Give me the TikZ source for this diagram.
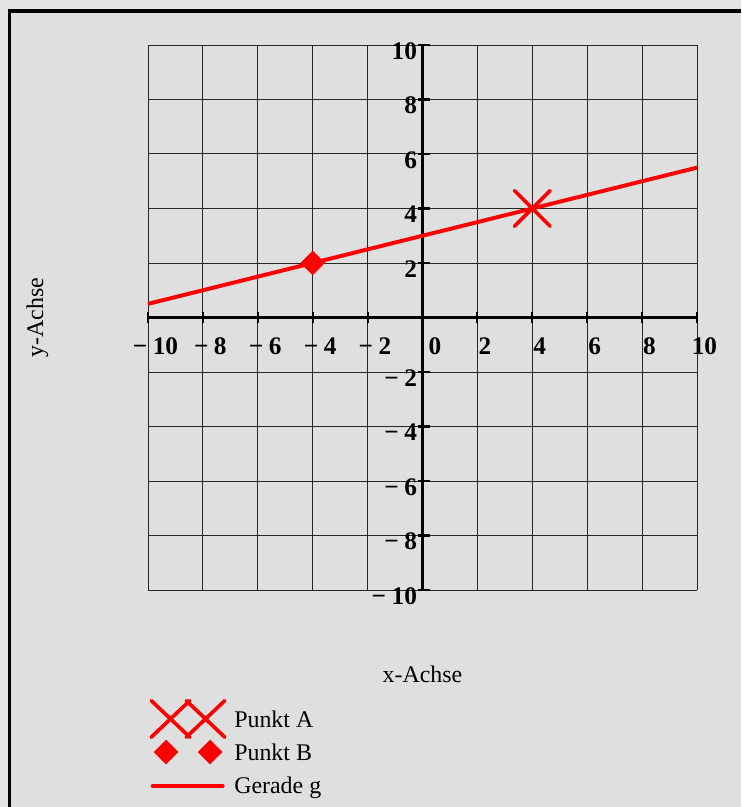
\documentclass[tikz,border=0pt]{standalone}
\usepackage{fontspec}
\setmainfont{Liberation Serif}
\usepackage{xcolor}
\usepackage{tikz}
\usetikzlibrary{shapes.geometric,shapes.misc}
\definecolor{hintergrund}{gray}{0.875}
\definecolor{aussen}{gray}{0.9}
\newcommand{\zahltext}[1]{\ifnum#1<0 −\hspace{0.22em}\number-#1\else#1\fi}
\tikzset{
  gitter/.style={draw=black!85,line width=0.7pt},
  achse/.style={draw=black,line width=1.5pt},
  gerade/.style={draw=red,line width=2.8pt},
  punktA/.style={cross out,draw=red,line width=2.6pt,line cap=round,
    minimum width=0.8cm,minimum height=0.8cm,inner sep=0pt},
  punktB/.style={diamond,fill=red,minimum size=0.62cm,inner sep=0pt},
  zahl/.style={font=\fontsize{18}{20}\selectfont\bfseries,inner sep=0pt},
  beschriftung/.style={font=\fontsize{17}{20}\selectfont,inner sep=0pt}
}
\begin{document}
\begin{tikzpicture}[x=0.68625cm,y=0.68125cm]
\fill[aussen] (-15.392,-17.963) rectangle (11.603,11.651);
\useasboundingbox (-15.392,-17.963) rectangle (11.603,11.651);
\fill[hintergrund] (-15.046,-17.963) rectangle (11.603,11.248);
\draw[line width=2.2pt] (-15.046,-17.963) -- (-15.046,11.248) -- (11.603,11.248);
\draw[gitter] (-10,-10) grid[step=2] (10,10);
\draw[achse] (-10,0) -- (10,0);
\draw[achse] (0,-10) -- (0,10);
\foreach \x in {-10,-8,...,10} \draw[achse] (\x,-0.22) -- (\x,0.22);
\foreach \y in {-10,-8,...,10} \draw[achse] (-0.15,\y) -- (0.28,\y);
\foreach \x in {-10,-8,-6,-4,-2,2,4,6,8,10}
  \node[zahl,anchor=north] (xl\x) at (\x+0.27,-0.72) {\zahltext{\x}};
\node[zahl,anchor=north] (xl0) at (0.45,-0.72) {0};
\foreach \y in {-10,-8,-6,-4,-2,2,4,6,8,10}
  \node[zahl,anchor=east] (yl\y) at (-0.19,\y-0.22) {\zahltext{\y}};
\coordinate (glinks) at (-10,0.5);
\coordinate (grechts) at (10,5.5);
\draw[gerade] (glinks) -- (grechts);
\node[punktA] (A) at (4,4) {};
\node[punktB] (B) at (-4,2) {};
\node[beschriftung,anchor=base] (xtitel) at (0,-13.38) {x-Achse};
\node[beschriftung,rotate=90,anchor=base] (ytitel) at (-13.82,0) {y-Achse};
\node[punktA,minimum width=0.875cm,minimum height=0.825cm] (legA1) at (-9.18,-14.73) {};
\node[punktA,minimum width=0.875cm,minimum height=0.825cm] (legA2) at (-7.905,-14.73) {};
\node[punktB] (legB1) at (-9.344,-15.945) {};
\node[punktB] (legB2) at (-7.741,-15.945) {};
\coordinate (leggl) at (-9.83,-17.19);
\coordinate (leggr) at (-7.28,-17.19);
\draw[gerade,line cap=round] (leggl) -- (leggr);
\node[beschriftung,anchor=base west] (textA) at (-6.867,-15.03) {Punkt A};
\node[beschriftung,anchor=base west] (textB) at (-6.867,-16.24) {Punkt B};
\node[beschriftung,anchor=base west] (textg) at (-6.867,-17.45) {Gerade g};
\end{tikzpicture}
\end{document}
